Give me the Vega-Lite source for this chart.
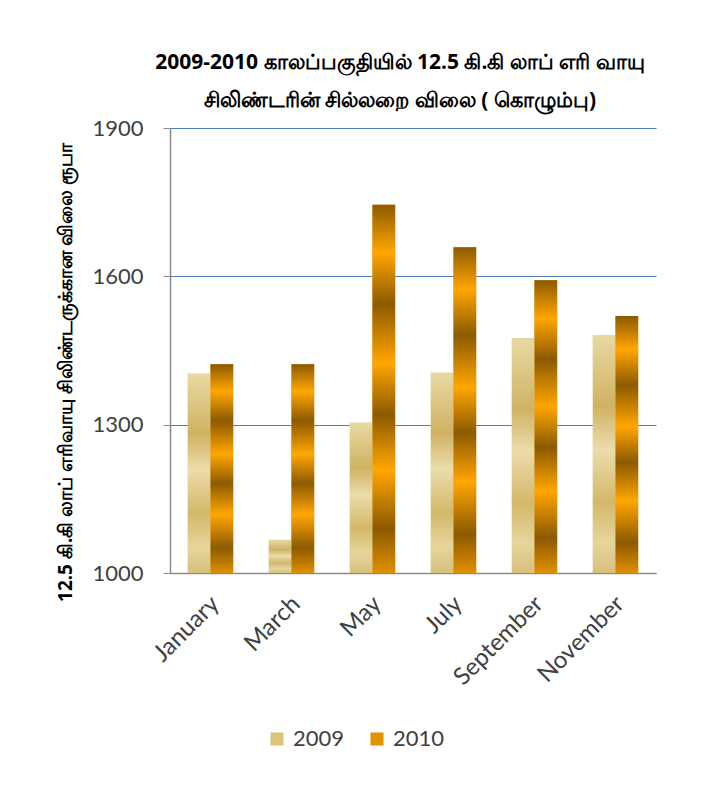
{
  "$schema": "https://vega.github.io/schema/vega-lite/v6.json",
  "width": 486,
  "height": 445,
  "autosize": {"type": "none"},
  "padding": {"left": 170, "top": 128, "right": 49, "bottom": 212},
  "background": "white",
  "title": {
    "text": ["2009-2010 காலப்பகுதியில் 12.5 கி.கி லாப் எரி வாயு", "சிலிண்டரின் சில்லறை விலை ( கொழும்பு)"],
    "fontSize": 21,
    "fontWeight": "bold",
    "font": "Noto Sans",
    "color": "#000000",
    "lineHeight": 38,
    "offset": 6,
    "anchor": "middle",
    "dx": -13
  },
  "data": {
    "values": [
      {"month": "January", "year": "2009", "price": 1403},
      {"month": "January", "year": "2010", "price": 1422},
      {"month": "March", "year": "2009", "price": 1067},
      {"month": "March", "year": "2010", "price": 1422},
      {"month": "May", "year": "2009", "price": 1304},
      {"month": "May", "year": "2010", "price": 1745},
      {"month": "July", "year": "2009", "price": 1405},
      {"month": "July", "year": "2010", "price": 1659},
      {"month": "September", "year": "2009", "price": 1475},
      {"month": "September", "year": "2010", "price": 1592},
      {"month": "November", "year": "2009", "price": 1481},
      {"month": "November", "year": "2010", "price": 1520}
    ]
  },
  "encoding": {
    "x": {
      "field": "month",
      "type": "nominal",
      "sort": ["January", "March", "May", "July", "September", "November"],
      "scale": {"paddingInner": 0.44, "paddingOuter": 0.22},
      "axis": {
        "title": null,
        "labelAngle": -45,
        "labelAlign": "right",
        "labelBaseline": "middle",
        "labelFont": "Lato",
        "labelFontSize": 24,
        "labelColor": "#404040",
        "labelPadding": 27,
        "labelOffset": 5,
        "ticks": false,
        "domainColor": "#8c8c8c",
        "domainWidth": 1.5
      }
    },
    "xOffset": {
      "field": "year",
      "type": "nominal",
      "scale": {"domain": ["2009", "2010"], "paddingInner": 0, "paddingOuter": 0}
    },
    "y": {
      "field": "price",
      "type": "quantitative",
      "scale": {"domain": [1000, 1900], "zero": false, "nice": false},
      "axis": {
        "title": "12.5 கி.கி லாப் எரிவாயு சிலிண்டருக்கான விலை ரூபா",
        "titleFont": "Noto Sans",
        "titleFontSize": 19,
        "titleFontWeight": "bold",
        "titleColor": "#000000",
        "titlePadding": 16,
        "titleY": 244,
        "values": [1000, 1300, 1600, 1900],
        "format": "d",
        "labelFont": "Lato",
        "labelFontSize": 22,
        "labelColor": "#404040",
        "labelPadding": 20,
        "tickSize": 7,
        "tickColor": "#8c8c8c",
        "domainColor": "#8c8c8c",
        "domainWidth": 1.5,
        "grid": true,
        "gridColor": "#4a7ebb",
        "gridWidth": 1
      }
    },
    "y2": {"datum": 1000}
  },
  "layer": [
    {
      "mark": {"type": "bar"},
      "encoding": {
        "color": {
          "field": "year",
          "type": "nominal",
          "scale": {"domain": ["2009", "2010"], "range": ["#dcc47a", "#e39200"]},
          "legend": {
            "title": null,
            "orient": "none",
            "direction": "horizontal",
            "legendX": 96,
            "legendY": 600,
            "symbolType": "square",
            "symbolSize": 170,
            "symbolStrokeWidth": 0,
            "labelFont": "Lato",
            "labelFontSize": 22,
            "labelColor": "#404040",
            "labelOffset": 5,
            "columnPadding": 21
          }
        }
      }
    },
    {
      "transform": [{"filter": "datum.year == '2009'"}],
      "mark": {
        "type": "bar",
        "color": {
          "gradient": "linear",
          "x1": 0, "y1": 0, "x2": 0, "y2": 1,
          "stops": [
            {"offset": 0, "color": "#e8d9a3"},
            {"offset": 0.3, "color": "#cfb263"},
            {"offset": 0.48, "color": "#ebdcaa"},
            {"offset": 0.7, "color": "#d3b86a"},
            {"offset": 0.87, "color": "#e6d59c"},
            {"offset": 1, "color": "#d8c07c"}
          ]
        }
      }
    },
    {
      "transform": [{"filter": "datum.year == '2010'"}],
      "mark": {
        "type": "bar",
        "color": {
          "gradient": "linear",
          "x1": 0, "y1": 0, "x2": 0, "y2": 1,
          "stops": [
            {"offset": 0, "color": "#8c5a00"},
            {"offset": 0.13, "color": "#ffa600"},
            {"offset": 0.27, "color": "#8c5a00"},
            {"offset": 0.43, "color": "#ffa600"},
            {"offset": 0.57, "color": "#8c5a00"},
            {"offset": 0.72, "color": "#ffa600"},
            {"offset": 0.88, "color": "#8c5a00"},
            {"offset": 1, "color": "#e09000"}
          ]
        }
      }
    }
  ],
  "config": {
    "view": {"stroke": null}
  }
}
